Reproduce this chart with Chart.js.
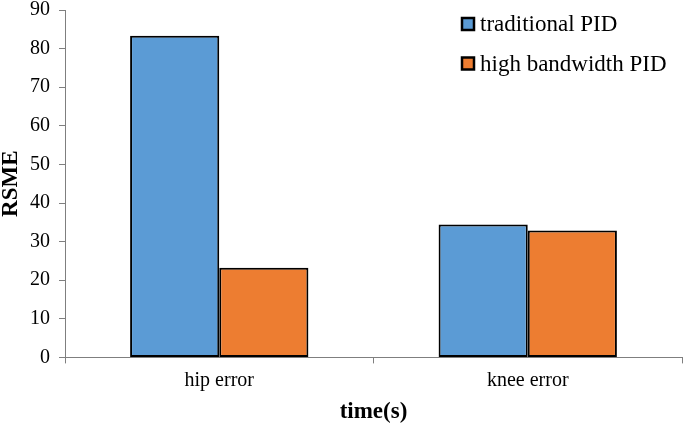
<!DOCTYPE html>
<html>
<head>
<meta charset="utf-8">
<script src="https://cdn.jsdelivr.net/npm/chart.js@4"></script>
<style>
  html, body { margin: 0; padding: 0; background: #fff; }
  #wrap { width: 685px; height: 426px; }
</style>
</head>
<body>
<div id="wrap"><canvas id="bars"></canvas></div>
<script>
var categories = ["hip error", "knee error"];
var traditional = [83.3, 34.4];
var highBandwidth = [23.2, 32.9];
var yTicks = [0, 10, 20, 30, 40, 50, 60, 70, 80, 90];

var serif = "'Liberation Serif', 'Times New Roman', serif";

// legend drawn top-right inside the plot, like the original
var boxLegend = {
  id: "boxLegend",
  afterDraw: function (chart) {
    var c = chart.ctx;
    var area = chart.chartArea;
    c.save();
    c.font = "23px " + serif;
    c.textBaseline = "middle";
    chart.data.datasets.forEach(function (ds, i) {
      var x = 462;
      var y = area.top + 14 + i * 39.5;
      c.fillStyle = ds.backgroundColor;
      c.fillRect(x, y - 6, 12, 12);
      c.lineWidth = 2.5;
      c.strokeStyle = "#000";
      c.strokeRect(x, y - 6, 12, 12);
      c.fillStyle = "#000";
      c.fillText(ds.label, x + 18, y + 1);
    });
    c.restore();
  }
};

var ctx = document.getElementById("bars").getContext("2d");
var chart = new Chart(ctx, {
  type: "bar",
  data: {
    labels: categories,
    datasets: [
      {
        label: "traditional PID",
        data: traditional,
        backgroundColor: "#5B9BD5",
        borderColor: "#000",
        borderWidth: 2,
        borderSkipped: false,
      },
      {
        label: "high bandwidth PID",
        data: highBandwidth,
        backgroundColor: "#ED7D31",
        borderColor: "#000",
        borderWidth: 2,
        borderSkipped: false,
      },
    ],
  },
  options: {
    responsive: true,
    maintainAspectRatio: false,
    animation: false,
    layout: { padding: { top: 0, right: 3, left: 0, bottom: 0 } },
    datasets: {
      bar: { barPercentage: 1, categoryPercentage: 0.578 }
    },
    plugins: {
      legend: { display: false },
      tooltip: { enabled: false },
    },
    scales: {
      x: {
        grid: { display: true, drawOnChartArea: false, offset: true, color: "#7f7f7f", tickLength: 6 },
        border: { color: "#7f7f7f", width: 1 },
        ticks: { color: "#000", font: { family: serif, size: 20 }, padding: 5 },
        title: {
          display: true,
          text: "time(s)",
          color: "#000",
          font: { family: serif, size: 23, weight: "bold" },
          padding: { top: 1, bottom: 0 },
        },
      },
      y: {
        min: 0,
        max: 90,
        afterBuildTicks: function (axis) {
          axis.ticks = yTicks.map(function (v) { return { value: v }; });
        },
        afterFit: function (axis) {
          axis.width = 65;
          axis.paddingTop = 10;
          axis.paddingBottom = 0;
        },
        grid: { display: true, drawOnChartArea: false, color: "#7f7f7f", tickLength: 6 },
        border: { color: "#7f7f7f", width: 1 },
        ticks: { color: "#000", font: { family: serif, size: 20 }, padding: 9 },
        title: {
          display: true,
          text: "RSME",
          color: "#000",
          font: { family: serif, size: 23, weight: "bold", lineHeight: 1 },
          padding: 0,
        },
      },
    },
  },
  plugins: [boxLegend],
});
</script>
</body>
</html>
